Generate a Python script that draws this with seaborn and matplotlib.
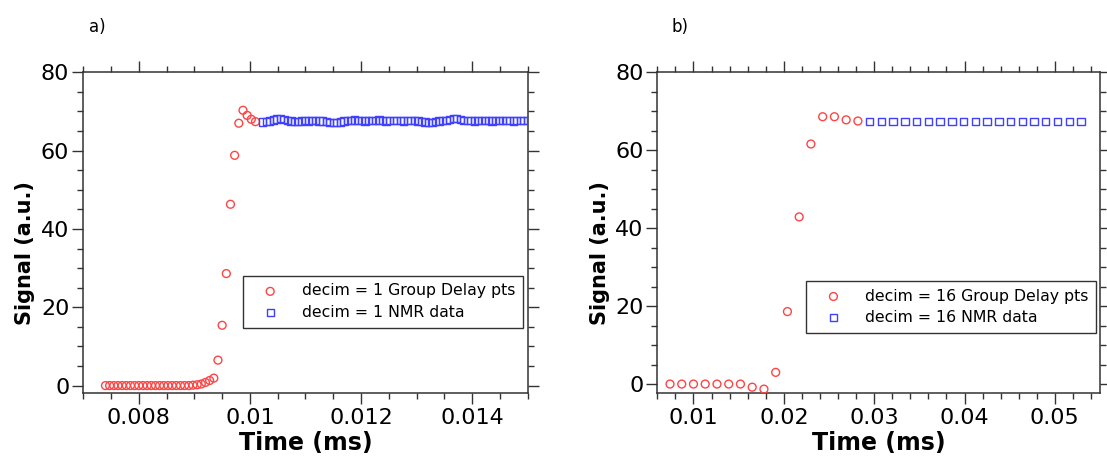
import numpy as np
import pandas as pd
import matplotlib
matplotlib.use("Agg")
import matplotlib.pyplot as plt
from matplotlib.ticker import MultipleLocator, FuncFormatter
import seaborn as sns

# ---- panel a: decim = 1 ----
a_gd_t0, a_gd_dt = 0.0074, 0.000075
a_gd_signal = [0.0, 0.0, 0.0, 0.0, 0.0, 0.0, 0.0, 0.0, 0.0, 0.0,
               0.0, 0.0, 0.0, 0.0, 0.0, 0.0, 0.0, 0.0, 0.0, 0.0,
               0.0, 0.1, 0.2, 0.4, 0.8, 1.3, 1.9, 6.5, 15.4, 28.6,
               46.3, 58.8, 67.0, 70.3, 69.0, 68.0, 67.4]
a_nmr_t0, a_nmr_dt = 0.01023, 0.0000635
a_nmr_signal = [67.3, 67.4, 67.6, 67.8, 68.1, 68.2, 68.0, 67.7, 67.6, 67.5,
                67.5, 67.6, 67.7, 67.6, 67.7, 67.7, 67.6, 67.6, 67.5, 67.2,
                67.1, 67.1, 67.3, 67.6, 67.7, 67.7, 67.8, 67.7, 67.7, 67.6,
                67.7, 67.7, 67.7, 67.8, 67.7, 67.6, 67.7, 67.7, 67.7, 67.7,
                67.6, 67.7, 67.7, 67.7, 67.6, 67.5, 67.3, 67.1, 67.2, 67.5,
                67.6, 67.7, 67.7, 67.9, 68.2, 68.2, 67.9, 67.7, 67.7, 67.7,
                67.6, 67.7, 67.7, 67.7, 67.7, 67.6, 67.7, 67.7, 67.7, 67.7,
                67.7, 67.6, 67.7, 67.7, 67.7, 67.7]

# ---- panel b: decim = 16 ----
b_gd_t0, b_gd_dt = 0.0074, 0.0013
b_gd_signal = [0.0, 0.0, 0.0, 0.0, 0.0, 0.0, 0.0, -0.8, -1.3, 3.0,
               18.6, 42.9, 61.6, 68.6, 68.6, 67.8, 67.5]
b_nmr_t0, b_nmr_dt = 0.0295, 0.0013
b_nmr_signal = [67.3] * 19

legend_a = ["decim = 1 Group Delay pts", "decim = 1 NMR data"]
legend_b = ["decim = 16 Group Delay pts", "decim = 16 NMR data"]
panel_tags = ["a)", "b)"]
x_label = "Time (ms)"
y_label = "Signal (a.u.)"


def series(t0, dt, values):
    return pd.DataFrame({"t": t0 + dt * np.arange(len(values)),
                         "s": values})


sns.set_style("ticks")
plt.rcParams["font.family"] = ["DejaVu Sans"]
plt.rcParams["text.color"] = "black"
plt.rcParams["xtick.labelcolor"] = "black"
plt.rcParams["ytick.labelcolor"] = "black"
plt.rcParams["axes.labelcolor"] = "black"

RED = "#ff4444"
BLUE = "#4040ff"
AX_COLOR = "#333333"

fig = plt.figure(figsize=(11.07, 4.65), dpi=100)
ax_a = fig.add_axes([0.0752, 0.1548, 0.4015, 0.6897])
ax_b = fig.add_axes([0.5938, 0.1548, 0.3999, 0.6897])

panels = [
    (ax_a, series(a_gd_t0, a_gd_dt, a_gd_signal),
     series(a_nmr_t0, a_nmr_dt, a_nmr_signal), legend_a,
     (0.007, 0.015), (-1.9, 80), 0.002, 0.0005, (0.989, 0.204)),
    (ax_b, series(b_gd_t0, b_gd_dt, b_gd_signal),
     series(b_nmr_t0, b_nmr_dt, b_nmr_signal), legend_b,
     (0.006, 0.055), (-2.3, 80), 0.01, 0.002, (0.991, 0.188)),
]

for ax, gd, nmr, labels, xlim, ylim, xmaj, xmin, anchor in panels:
    sns.scatterplot(data=gd, x="t", y="s", ax=ax, marker="o", s=32,
                    facecolor="none", edgecolor=RED, linewidth=1.0,
                    label=labels[0], zorder=3)
    sns.scatterplot(data=nmr, x="t", y="s", ax=ax, marker="s", s=28,
                    facecolor="none", edgecolor=BLUE, linewidth=1.0,
                    label=labels[1], zorder=3)
    ax.set_xlim(*xlim)
    ax.set_ylim(*ylim)
    ax.xaxis.set_major_locator(MultipleLocator(xmaj))
    ax.xaxis.set_minor_locator(MultipleLocator(xmin))
    ax.yaxis.set_major_locator(MultipleLocator(20))
    ax.yaxis.set_minor_locator(MultipleLocator(5))
    ax.xaxis.set_major_formatter(FuncFormatter(lambda v, p: "%g" % round(v, 6)))
    ax.yaxis.set_major_formatter(FuncFormatter(lambda v, p: "%g" % round(v, 6)))
    for sp in ax.spines.values():
        sp.set_visible(True)
        sp.set_linewidth(1.1)
        sp.set_color(AX_COLOR)
    ax.tick_params(which="both", direction="out", top=True, right=True,
                   labeltop=False, labelright=False, color=AX_COLOR,
                   width=1.0)
    ax.tick_params(which="major", length=8, labelsize=16, pad=3)
    ax.tick_params(axis="y", which="major", pad=2)
    ax.tick_params(which="minor", length=4.5)
    ax.set_xlabel(x_label, fontsize=17, fontweight="bold", labelpad=2)
    ax.set_ylabel(y_label, fontsize=15, fontweight="bold")
    ax.yaxis.set_label_coords(-0.108, 0.435)
    leg = ax.legend(loc="lower right", bbox_to_anchor=anchor,
                    borderaxespad=0, fontsize=11.3, frameon=True,
                    fancybox=False, edgecolor=AX_COLOR, framealpha=1,
                    handlelength=2.5, handletextpad=0.75, borderpad=0.5,
                    labelspacing=0.4, scatterpoints=1)
    leg.get_frame().set_linewidth(1.0)

fig.text(97 / 1107, 1 - 27 / 465, panel_tags[0], fontsize=12,
         ha="center", va="center")
fig.text(680 / 1107, 1 - 27 / 465, panel_tags[1], fontsize=12,
         ha="center", va="center")

fig.savefig("out.png", dpi=100)
